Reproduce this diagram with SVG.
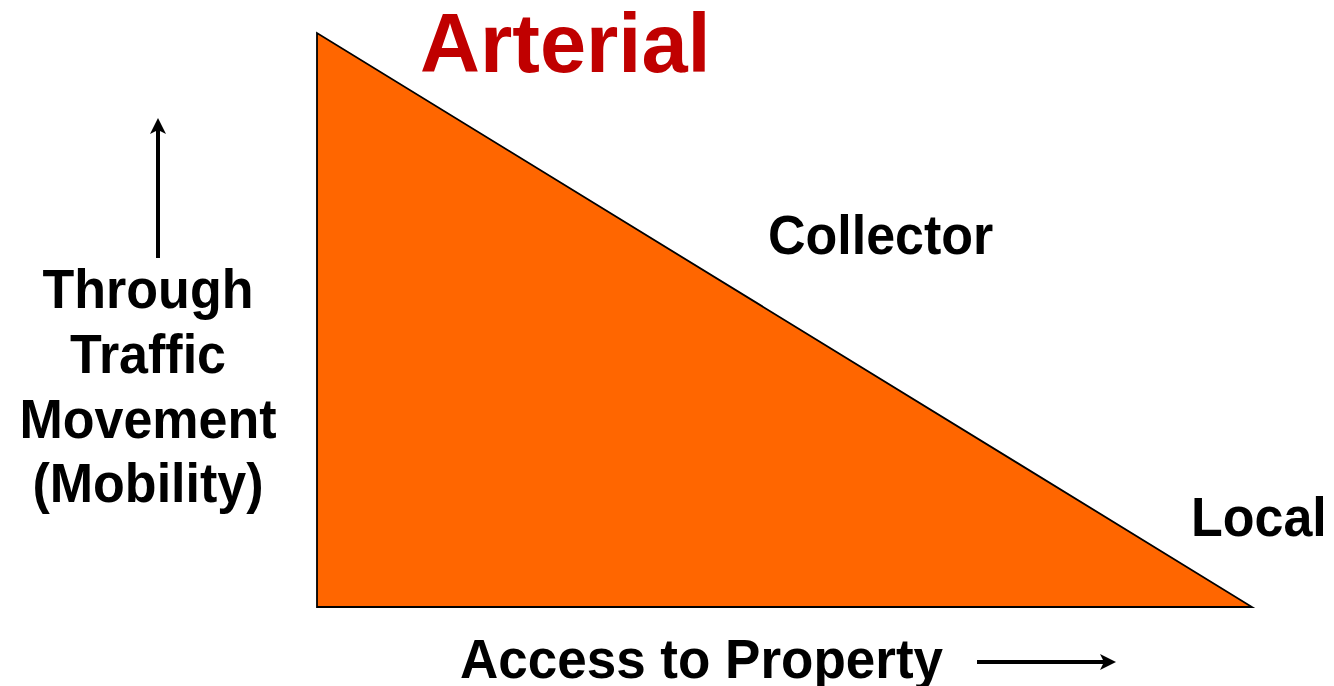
<svg xmlns="http://www.w3.org/2000/svg" width="1334" height="686" viewBox="0 0 1334 686">
<defs>
<style>
.lbl{font-family:"Liberation Sans",Arial,sans-serif;font-weight:bold;font-size:52px;fill:#000}
.title{font-family:"Liberation Sans",Arial,sans-serif;font-weight:bold;font-size:83px;fill:#C00000}
.ax{stroke:#000;stroke-width:4;fill:none}
</style>
<marker id="ah" viewBox="0 0 10 10" refX="5" refY="5" markerWidth="4" markerHeight="4" orient="auto" markerUnits="strokeWidth">
<path d="M0,0 L10,5 L0,10 L2.5,5 z" fill="#000"/>
</marker>
</defs>
<rect width="1334" height="686" fill="#fff"/>
<g id="triangle">
<polygon points="317,33 317,607 1252,607" fill="#FF6600" stroke="#000" stroke-width="1.8" stroke-linejoin="miter"/>
</g>
<g id="arterial"><text class="title" x="420" y="72">Arterial</text></g>
<g id="collector"><text class="lbl" transform="translate(768,254) scale(1,1.06)">Collector</text></g>
<g id="local"><text class="lbl" transform="translate(1191,536) scale(1,1.06)">Local</text></g>
<g id="yaxis-label">
<text class="lbl" text-anchor="middle" transform="translate(148,308) scale(1,1.06)">Through</text>
<text class="lbl" text-anchor="middle" transform="translate(148,373) scale(1,1.06)">Traffic</text>
<text class="lbl" text-anchor="middle" transform="translate(148,438) scale(1,1.06)">Movement</text>
<text class="lbl" text-anchor="middle" transform="translate(148,502) scale(1,1.06)">(Mobility)</text>
</g>
<g id="xaxis-label"><text class="lbl" style="font-size:53px" transform="translate(460,678) scale(1,1.06)">Access to Property</text></g>
<g id="connectors">
<line class="ax" x1="158" y1="258" x2="158" y2="126" marker-end="url(#ah)"/>
<line class="ax" x1="977" y1="662" x2="1108" y2="662" marker-end="url(#ah)"/>
</g>
</svg>
